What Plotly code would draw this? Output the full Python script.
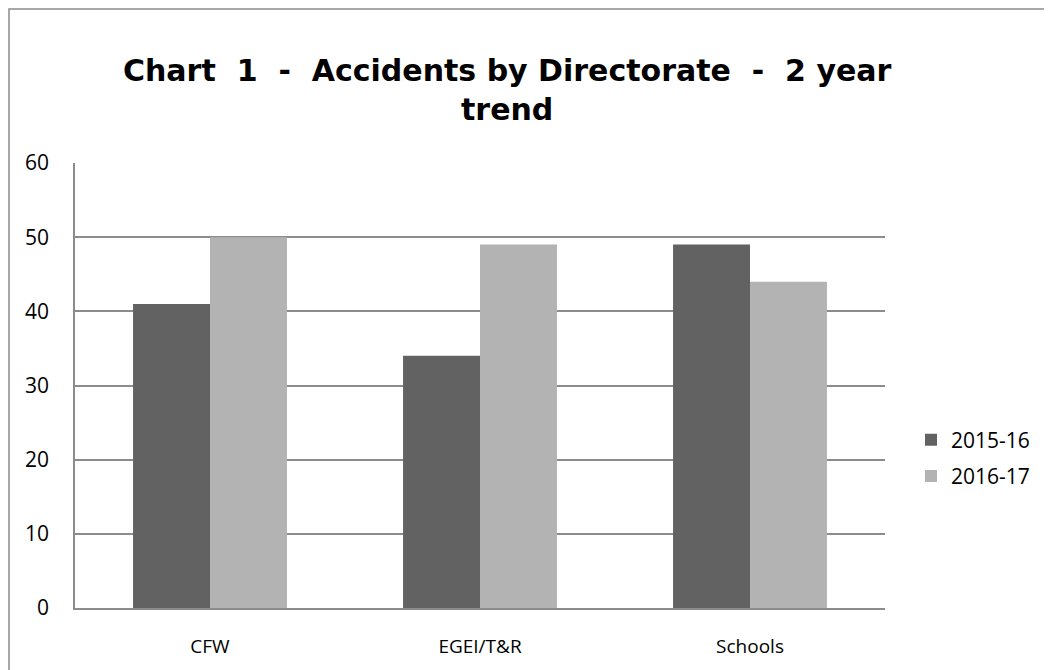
import plotly.graph_objects as go

categories = ["CFW", "EGEI/T&R", "Schools"]
series_names = ["2015-16", "2016-17"]
values_2015_16 = [41, 34, 49]
values_2016_17 = [50, 49, 44]
y_ticks = [0, 10, 20, 30, 40, 50, 60]
title_lines = ["Chart\u00a0 1\u00a0 -\u00a0 Accidents by Directorate\u00a0 -\u00a0 2 year", "trend"]

FONT = "Open Sans"
TITLE_FONT = "DejaVu Sans"
OFF = 8  # page body margin offset
fig = go.Figure()
fig.add_trace(go.Bar(name=series_names[0], x=categories, y=values_2015_16,
                     legendgroup="a",
                     marker=dict(color="#626262", line=dict(width=0))))
fig.add_trace(go.Bar(name=series_names[1], x=categories, y=values_2016_17,
                     legendgroup="b",
                     marker=dict(color="#b3b3b3", line=dict(width=0))))

W, H = 1052, 670
L = 75 - OFF
T = 163 - OFF
R = W - (885 - OFF)
B = H - (608 - OFF)
pw, ph = W - L - R, H - T - B

def px_x(x):
    return (x - OFF - L) / pw

def px_y(y):
    return (H - B - (y - OFF)) / ph

fig.update_layout(
    width=W, height=H,
    margin=dict(l=L, r=R, t=T, b=B, autoexpand=False),
    paper_bgcolor="white", plot_bgcolor="white",
    barmode="group", bargap=0.43, bargroupgap=0,
    font=dict(family=FONT, color="#000000", size=17),
    legend=dict(x=px_x(911), xanchor="left", y=px_y(458), yanchor="middle",
                font=dict(family=FONT, size=21), bgcolor="rgba(0,0,0,0)",
                traceorder="grouped", tracegroupgap=6),
    showlegend=True,
)
for txt, yc in zip(title_lines, [71, 109]):
    fig.add_annotation(text="<b>" + txt + "</b>", xref="paper", yref="paper",
                       x=px_x(507), y=px_y(yc), xanchor="center", yanchor="middle",
                       showarrow=False,
                       font=dict(family=TITLE_FONT, size=30, color="#000000"))

fig.update_yaxes(range=[0, 60], tickvals=y_ticks, showgrid=True,
                 gridcolor="#8c8c8c", gridwidth=1.5, showline=True,
                 linecolor="#8c8c8c", linewidth=1.5, zeroline=False,
                 ticks="", ticklabelstandoff=20, tickfont=dict(size=21))
fig.update_xaxes(showline=True, linecolor="#8c8c8c", linewidth=1.5,
                 ticks="", ticklabelstandoff=20, tickfont=dict(size=19))

# outer chart border (left & top visible; right/bottom run off the image)
fig.add_shape(type="rect", xref="paper", yref="paper",
              x0=px_x(9), x1=px_x(W + 30),
              y0=px_y(H + 30), y1=px_y(9),
              line=dict(color="#8c8c8c", width=1.5), fillcolor="rgba(0,0,0,0)",
              layer="below")

fig.write_html("out.html")
